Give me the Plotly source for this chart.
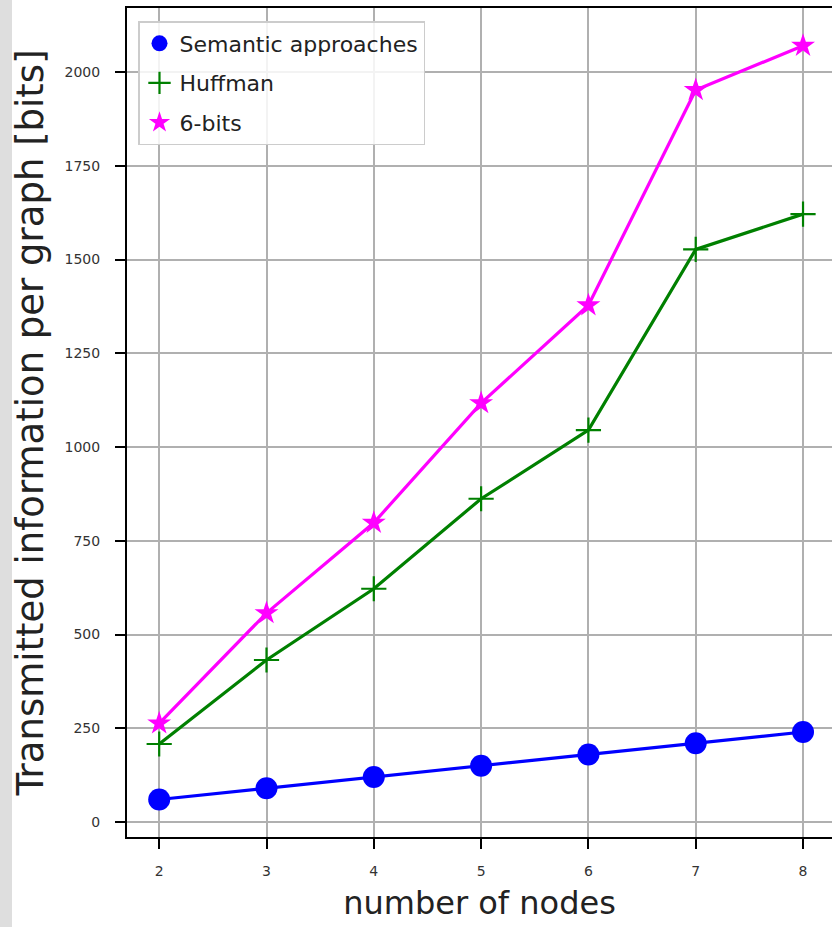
import plotly.graph_objects as go

nodes = [2, 3, 4, 5, 6, 7, 8]
semantic = [60, 90, 120, 150, 180, 210, 240]
huffman = [208, 432, 622, 862, 1045, 1527, 1621]
six_bits = [263, 557, 798, 1117, 1378, 1952, 2070]
y_ticks = [0, 250, 500, 750, 1000, 1250, 1500, 1750, 2000]

W, H = 832, 927
ML, MR, MT, MB = 127, 0, 8, 90
PW = W - ML - MR
PH = H - MT - MB

fig = go.Figure()

series = [
    ("Semantic approaches", semantic, "#0000ff", "circle", 22, 0),
    ("Huffman", huffman, "#008000", "cross-thin", 18, 2.2),
    ("6-bits", six_bits, "#ff00ff", "star", 18, 0),
]

for name, vals, col, sym, size, mlw in series:
    fig.add_trace(go.Scatter(
        x=nodes, y=vals, mode="lines+markers", name=name, showlegend=False,
        line=dict(color=col, width=3.2),
        marker=dict(symbol=sym, size=size, color=col,
                    line=dict(color=col, width=mlw)),
    ))
for name, vals, col, sym, size, mlw in series:
    fig.add_trace(go.Scatter(
        x=[None], y=[None], mode="markers", name=name, legendgroup=name,
        marker=dict(symbol=sym, size=min(size, 18), color=col,
                    line=dict(color=col, width=mlw)),
    ))

fig.add_shape(type="rect", xref="paper", yref="paper",
              x0=-ML / PW, x1=(12 - ML) / PW, y0=-MB / PH, y1=1 + MT / PH,
              fillcolor="#dedede", line=dict(width=0), layer="below")

fig.update_layout(
    width=W, height=H,
    margin=dict(l=ML, r=MR, t=MT, b=MB),
    paper_bgcolor="white", plot_bgcolor="white",
    font=dict(family="DejaVu Sans", color="#222222"),
    showlegend=True,
    legend=dict(
        x=(138 - ML) / PW, y=1 - (21 - MT) / PH, xanchor="left", yanchor="top",
        bgcolor="rgba(255,255,255,0.85)", bordercolor="#cccccc", borderwidth=1.5,
        font=dict(size=22, color="#222222", family="DejaVu Sans"),
        itemwidth=30, tracegroupgap=8,
    ),
    xaxis=dict(
        range=[1.70, 8.27], tickvals=nodes, ticktext=[str(n) for n in nodes],
        showgrid=True, gridcolor="#b0b0b0", gridwidth=1.5,
        showline=True, linecolor="black", linewidth=2, mirror=True,
        ticks="outside", ticklen=10, tickwidth=2, tickcolor="black",
        tickfont=dict(size=14, color="#333333"), ticklabelstandoff=10,
        title=dict(text="number of nodes", font=dict(size=32, color="#222222"), standoff=14),
        zeroline=False,
    ),
    yaxis=dict(
        range=[-40, 2170.7], tickvals=y_ticks, ticktext=[str(v) for v in y_ticks],
        showgrid=True, gridcolor="#b0b0b0", gridwidth=1.5,
        showline=True, linecolor="black", linewidth=2, mirror=False,
        ticks="outside", ticklen=10, tickwidth=2, tickcolor="black",
        tickfont=dict(size=14, color="#333333"), ticklabelstandoff=12,
        title=dict(text="Transmitted information per graph [bits]", font=dict(size=37, color="#222222"), standoff=10),
        zeroline=False,
    ),
)

fig.write_html("out.html", config={"displayModeBar": False},
               post_script="document.body.style.margin='0';")
